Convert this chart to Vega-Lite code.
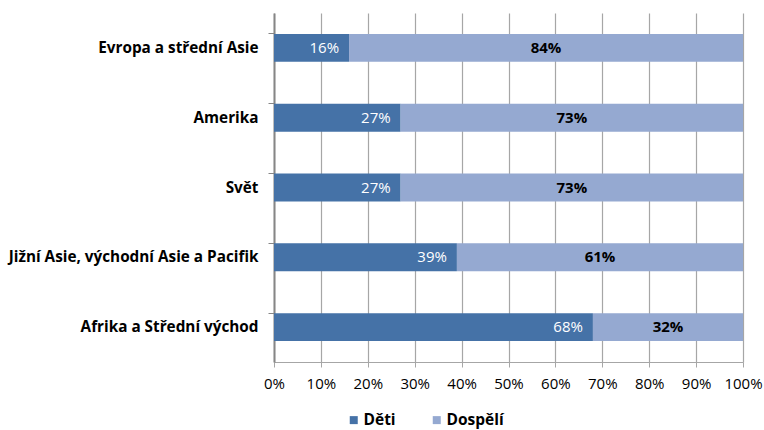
{
  "$schema": "https://vega.github.io/schema/vega-lite/v6.json",
  "width": 469,
  "height": 349,
  "autosize": {"type": "none"},
  "padding": {"left": 274, "top": 13, "right": 21, "bottom": 68},
  "background": "white",
  "config": {
    "font": "Open Sans",
    "view": {"stroke": null}
  },
  "data": {
    "values": [
      {"region": "Evropa a střední Asie", "group": "Děti", "value": 16, "ord": 1},
      {"region": "Evropa a střední Asie", "group": "Dospělí", "value": 84, "ord": 2},
      {"region": "Amerika", "group": "Děti", "value": 27, "ord": 1},
      {"region": "Amerika", "group": "Dospělí", "value": 73, "ord": 2},
      {"region": "Svět", "group": "Děti", "value": 27, "ord": 1},
      {"region": "Svět", "group": "Dospělí", "value": 73, "ord": 2},
      {"region": "Jižní Asie, východní Asie a Pacifik", "group": "Děti", "value": 39, "ord": 1},
      {"region": "Jižní Asie, východní Asie a Pacifik", "group": "Dospělí", "value": 61, "ord": 2},
      {"region": "Afrika a Střední východ", "group": "Děti", "value": 68, "ord": 1},
      {"region": "Afrika a Střední východ", "group": "Dospělí", "value": 32, "ord": 2}
    ]
  },
  "transform": [
    {"stack": "value", "groupby": ["region"], "sort": [{"field": "ord", "order": "ascending"}], "as": ["v0", "v1"]},
    {"calculate": "(datum.v0 + datum.v1) / 2", "as": "mid"},
    {"calculate": "datum.value + '%'", "as": "label"}
  ],
  "encoding": {
    "y": {
      "field": "region",
      "type": "nominal",
      "sort": ["Evropa a střední Asie", "Amerika", "Svět", "Jižní Asie, východní Asie a Pacifik", "Afrika a Střední východ"],
      "scale": {"paddingInner": 0.6, "paddingOuter": 0.3},
      "axis": {
        "title": null,
        "bandPosition": 0,
        "labelFontWeight": "bold",
        "labelFontSize": 15.3,
        "labelColor": "#000000",
        "labelPadding": 10,
        "labelLimit": 400,
        "tickSize": 6,
        "tickColor": "#868686",
        "domainColor": "#868686",
        "domainWidth": 2,
        "grid": false
      }
    }
  },
  "layer": [
    {
      "mark": {"type": "bar"},
      "encoding": {
        "x": {
          "field": "v0",
          "type": "quantitative",
          "scale": {"domain": [0, 100], "nice": false},
          "axis": {
            "title": null,
            "values": [0, 10, 20, 30, 40, 50, 60, 70, 80, 90, 100],
            "labelExpr": "datum.value + '%'",
            "labelFontSize": 15,
            "labelColor": "#000000",
            "labelPadding": 9,
            "labelOverlap": false,
            "labelFlush": false,
            "grid": true,
            "gridColor": "#A6A6A6",
            "gridWidth": 1.2,
            "tickColor": "#A6A6A6",
            "tickSize": 5,
            "domainColor": "#A6A6A6",
            "domainWidth": 1.2
          }
        },
        "x2": {"field": "v1"},
        "color": {
          "field": "group",
          "type": "nominal",
          "scale": {"domain": ["Děti", "Dospělí"], "range": ["#4572A7", "#95A9D1"]},
          "legend": {
            "title": null,
            "orient": "none",
            "direction": "horizontal",
            "legendX": 72,
            "legendY": 399,
            "symbolType": "square",
            "symbolSize": 64,
            "symbolStrokeWidth": 0,
            "labelFontSize": 15.5,
            "labelFontWeight": "bold",
            "labelColor": "#000000",
            "columnPadding": 33,
            "labelOffset": 2
          }
        }
      }
    },
    {
      "transform": [{"filter": "datum.group === 'Děti'"}],
      "mark": {"type": "text", "align": "right", "dx": -10, "color": "white", "fontSize": 15, "baseline": "middle"},
      "encoding": {
        "x": {"field": "v1", "type": "quantitative"},
        "text": {"field": "label", "type": "nominal"}
      }
    },
    {
      "transform": [{"filter": "datum.group === 'Dospělí'"}],
      "mark": {"type": "text", "align": "center", "color": "black", "fontWeight": "bold", "fontSize": 15, "baseline": "middle"},
      "encoding": {
        "x": {"field": "mid", "type": "quantitative"},
        "text": {"field": "label", "type": "nominal"}
      }
    }
  ]
}
